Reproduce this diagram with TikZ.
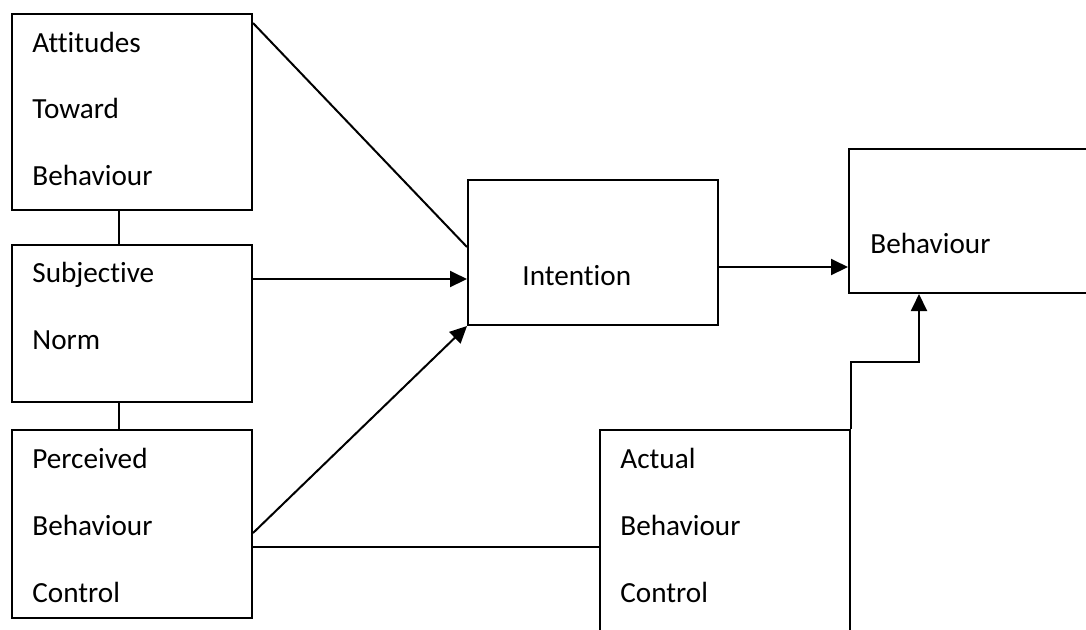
\documentclass[tikz,border=0pt]{standalone}
\usepackage{fontspec}
\setmainfont[Ligatures={NoCommon}]{Carlito}
\usetikzlibrary{arrows.meta,calc}
\begin{document}
\begin{tikzpicture}[x=0.5pt,y=-0.5pt,
  box/.style={draw=black, line width=1pt, rectangle, inner sep=0pt, anchor=north west},
  txt/.style={anchor=base west, inner sep=0pt, font=\fontsize{14.6}{17}\selectfont},
  conn/.style={draw=black, line width=1pt},
  arr/.style={conn, -{Triangle[length=8.5pt,width=8pt]}}]
\useasboundingbox (0,0) rectangle (1086,629);
\clip (0,0) rectangle (1086,629);
% boxes
\node[box, minimum width=120pt, minimum height=98pt] (A) at (11,13) {};
\node[box, minimum width=120pt, minimum height=78.5pt] (B) at (11,244) {};
\node[box, minimum width=120pt, minimum height=94pt] (C) at (11,429) {};
\node[box, minimum width=125pt, minimum height=72.5pt] (I) at (467,179) {};
\node[box, minimum width=130pt, minimum height=72pt] (Bh) at (848,148) {};
\node[box, minimum width=125pt, minimum height=120pt] (Act) at (599,429) {};
% texts
\node[txt] (a1) at ($(A.north west)+(21,39)$) {Attitudes};
\node[txt] (a2) at ($(A.north west)+(21,105)$) {Toward};
\node[txt] (a3) at ($(A.north west)+(21,172)$) {Behaviour};
\node[txt] (b1) at ($(B.north west)+(21,38)$) {Subjective};
\node[txt] (b2) at ($(B.north west)+(21,105)$) {Norm};
\node[txt] (c1) at ($(C.north west)+(21,39)$) {Perceived};
\node[txt] (c2) at ($(C.north west)+(21,106)$) {Behaviour};
\node[txt] (c3) at ($(C.north west)+(21,173)$) {Control};
\node[txt] (i1) at ($(I.north west)+(55,106)$) {Intention};
\node[txt] (h1) at ($(Bh.north west)+(22,105)$) {Behaviour};
\node[txt] (d1) at ($(Act.north west)+(21,39)$) {Actual};
\node[txt] (d2) at ($(Act.north west)+(21,106)$) {Behaviour};
\node[txt] (d3) at ($(Act.north west)+(21,173)$) {Control};
% connectors
\draw[conn] ($(A.south west)+(108,0)$) -- ($(B.north west)+(108,0)$);
\draw[conn] ($(B.south west)+(108,0)$) -- ($(C.north west)+(108,0)$);
\draw[conn] ($(A.north east)+(0,10)$) -- ($(I.north west)+(0,68)$);
\draw[arr] ($(B.north east)+(0,35)$) coordinate (bs) -- (bs -| I.west);
\draw[arr] ($(C.north east)+(0,104)$) -- (I.south west);
\draw[conn] ($(C.north east)+(0,118)$) coordinate (cs) -- (cs -| Act.west);
\draw[arr] ($(I.north east)+(0,88)$) coordinate (is) -- (is -| Bh.west);
\draw[arr] (Act.north east) -- ++(0,-67) -| ($(Bh.south west)+(71,0)$);
\end{tikzpicture}
\end{document}
